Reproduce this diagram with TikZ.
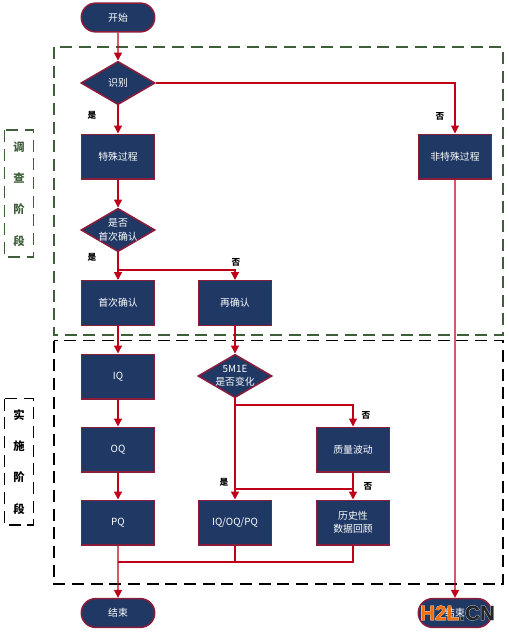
\documentclass[tikz,border=0pt]{standalone}
\usepackage{fontspec}
\setmainfont{Noto Sans CJK SC}
\newfontfamily\logofont[RawFeature={embolden=0.8}]{Liberation Sans Bold}
\newfontfamily\logohalofont[RawFeature={embolden=3.5}]{Liberation Sans Bold}
\usetikzlibrary{arrows.meta,shapes.geometric,shapes.misc}
\definecolor{boxblue}{HTML}{1F3864}
\definecolor{boxedge}{HTML}{8A1C3C}
\definecolor{flowred}{HTML}{C00018}
\definecolor{stagegreen}{HTML}{3F5F3A}
\definecolor{logoorange}{HTML}{F07010}
\definecolor{logogray}{HTML}{262626}
\tikzset{
    every picture/.style={line width=0.75pt},
    boxtext/.style={text=white, font=\fontsize{7.4}{10}\selectfont, align=center},
    processbox/.style={rectangle, draw=boxedge, fill=boxblue, line width=1pt, minimum width=55pt, minimum height=33.5pt, inner sep=0pt, boxtext},
    terminalbox/.style={rounded rectangle, draw=boxedge, fill=boxblue, line width=1.2pt, minimum width=55pt, minimum height=21.5pt, inner sep=0pt, boxtext},
    decisionbox/.style={diamond, draw=boxedge, fill=boxblue, line width=1.2pt, minimum width=55.5pt, minimum height=32.5pt, inner sep=0pt},
    flow/.style={draw=flowred, line width=1.1pt, -{Triangle[width=6pt,length=6pt]}},
    thinflow/.style={draw=flowred, line width=0.8pt, -{Triangle[width=6pt,length=6pt]}},
    plainflow/.style={draw=flowred, line width=0.9pt},
    stageframe/.style={line width=1pt, dash pattern={on 9pt off 5pt}},
    stagetext/.style={font=\fontsize{8.5}{8.5}\selectfont\bfseries, inner sep=0pt},
    branchtext/.style={font=\fontsize{6.5}{6.5}\selectfont\bfseries, text=black, inner sep=0pt},
}
\begin{document}
\begin{tikzpicture}[x=0.75pt, y=-0.75pt]
    \useasboundingbox (0,0) rectangle (508,635);
    \draw[stageframe, draw=stagegreen] (54,47) rectangle (503,335);
    \draw[stageframe, draw=black] (54,340.5) rectangle (503,584);
    \draw[stageframe, draw=stagegreen] (4.5,130) rectangle (33.5,257);
    \draw[stageframe, draw=black] (4.5,398.5) rectangle (33.5,525);

    \node[stagetext, text=stagegreen] (surveyA) at (19,147) {调};
    \node[stagetext, text=stagegreen] (surveyB) at (19,178) {查};
    \node[stagetext, text=stagegreen] (surveyC) at (19,209) {阶};
    \node[stagetext, text=stagegreen] (surveyD) at (19,241) {段};
    \node[stagetext] (applyA) at (19,415) {实};
    \node[stagetext] (applyB) at (19,446) {施};
    \node[stagetext] (applyC) at (19,477) {阶};
    \node[stagetext] (applyD) at (19,509) {段};

    \node[terminalbox] (begin) at (118,17.5) {开始};
    \node[decisionbox, label={[boxtext]center:识别}] (identify) at (118,83) {};
    \node[processbox] (special) at (118,156.5) {特殊过程};
    \node[processbox] (nonspecial) at (455,156.5) {非特殊过程};
    \node[decisionbox, label={[boxtext]center:是否\\首次确认}] (firsttime) at (118,230) {};
    \node[processbox] (firstconfirm) at (118,303) {首次确认};
    \node[processbox] (reconfirm) at (235,303) {再确认};
    \node[processbox] (iq) at (118,376.5) {IQ};
    \node[processbox] (oq) at (118,449.5) {OQ};
    \node[processbox] (pq) at (118,522.5) {PQ};
    \node[decisionbox, label={[boxtext]center:5M1E\\是否变化}] (change) at (235,376) {};
    \node[processbox] (fluctuation) at (353,449.5) {质量波动};
    \node[processbox] (iqoqpq) at (235,522.5) {IQ/OQ/PQ};
    \node[processbox] (history) at (353,522.5) {历史性\\数据回顾};
    \node[terminalbox] (finish) at (118,613) {结束};
    \node[terminalbox] (finishright) at (455,613) {结束};

    \coordinate (splitA) at (118,270);
    \coordinate (splitB) at (235,405);
    \coordinate (splitC) at (353,489);
    \coordinate (splitD) at (118,562);

    \draw[flow] (begin) -- (identify);
    \draw[flow] (identify) -- (special);
    \draw[thinflow] (identify) -| (nonspecial);
    \draw[flow] (special) -- (firsttime);
    \draw[flow] (firsttime) -- (firstconfirm);
    \draw[thinflow, line width=1.1pt] (splitA) -| (reconfirm);
    \draw[flow] (firstconfirm) -- (iq);
    \draw[flow] (reconfirm) -- (change);
    \draw[flow] (iq) -- (oq);
    \draw[flow] (oq) -- (pq);
    \draw[flow] (pq) -- (finish);
    \draw[flow] (change) -- (iqoqpq);
    \draw[thinflow] (splitB) -| (fluctuation);
    \draw[flow] (fluctuation) -- (history);
    \draw[plainflow] (splitC) -- (splitC -| iqoqpq);
    \draw[plainflow] (iqoqpq) |- (splitD);
    \draw[plainflow] (history) |- (splitD);
    \draw[flow] (nonspecial) -- (finishright);

    \node[branchtext] (yesA) at (92,115) {是};
    \node[branchtext] (noA) at (440,116) {否};
    \node[branchtext] (yesB) at (92,257) {是};
    \node[branchtext] (noB) at (236,262) {否};
    \node[branchtext] (noC) at (366,415) {否};
    \node[branchtext] (noD) at (368,486) {否};
    \node[branchtext] (yesC) at (224,482) {是};

    \node[inner sep=0pt, font=\logohalofont\fontsize{15.5}{15.5}\selectfont, text=white] (logohalo) at (457.5,613) {H2L.CN};
    \node[inner sep=0pt, font=\logofont\fontsize{15.5}{15.5}\selectfont] (logo) at (457.5,613) {\textcolor{logoorange}{H2L}\textcolor{logogray}{.CN}};
\end{tikzpicture}
\end{document}
